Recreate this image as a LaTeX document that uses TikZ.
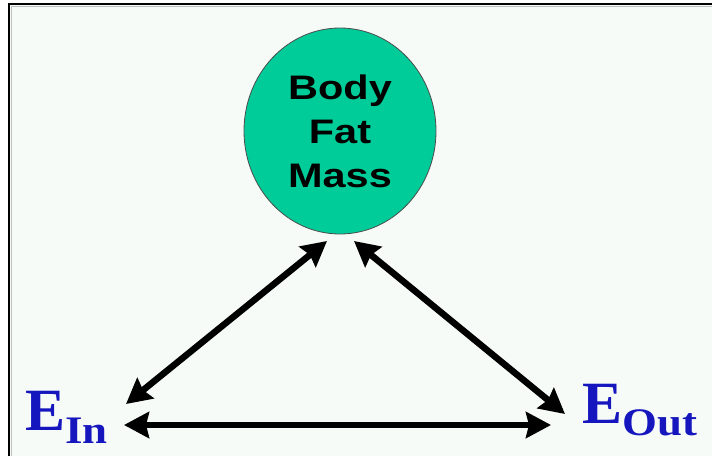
\documentclass[tikz,border=0pt]{standalone}
\usepackage{fontspec}
\setmainfont{Liberation Serif}
\newfontfamily\bfmfont[FakeStretch=1.22]{Liberation Sans}
\newfontfamily\subfont[FakeStretch=1.15]{Liberation Serif}
\usetikzlibrary{arrows.meta,shapes.geometric}
\definecolor{bgcol}{RGB}{246,251,248}
\definecolor{fatgreen}{RGB}{0,204,153}
\definecolor{eblue}{RGB}{22,22,190}
\tikzset{
  dbl/.style={line width=6.5pt, {Stealth[length=25pt,width=26pt,inset=3pt]}-{Stealth[length=25pt,width=26pt,inset=3pt]}},
  elabel/.style={anchor=base west, inner sep=0pt, text=eblue, font=\bfseries\fontsize{60}{60}\selectfont},
}
\begin{document}
\begin{tikzpicture}[x=1pt,y=-1pt]
\useasboundingbox (0,0) rectangle (712,456);
\fill[white] (0,0) rectangle (712,456);
\fill[bgcol] (9,4) rectangle (712,456);
\draw[black!25, line width=1pt] (11,456) -- (11,6) -- (712,6);
\draw[line width=2pt] (9,456) -- (9,4) -- (712,4);
\node (bfm) [ellipse, draw=black!70, line width=0.8pt, fill=fatgreen, minimum width=192pt, minimum height=206pt, inner sep=0pt, align=center, font=\bfmfont\bfseries\fontsize{34}{44}\selectfont] at (340,131) {Body\\Fat\\Mass};
\node (ein) [elabel] at (25,430) {E\raisebox{-13pt}{\subfont\bfseries\fontsize{39}{39}\selectfont In}};
\node (eout) [elabel] at (582,423) {E\raisebox{-12pt}{\subfont\bfseries\fontsize{39}{39}\selectfont Out}};
\coordinate (a1) at (126,404);
\coordinate (b1) at (327,241);
\coordinate (a2) at (354,241);
\coordinate (b2) at (565,414);
\coordinate (a3) at (124,425);
\coordinate (b3) at (551,425);
\draw[dbl] (a1) -- (b1);
\draw[dbl] (a2) -- (b2);
\draw[dbl] (a3) -- (b3);
\end{tikzpicture}
\end{document}
